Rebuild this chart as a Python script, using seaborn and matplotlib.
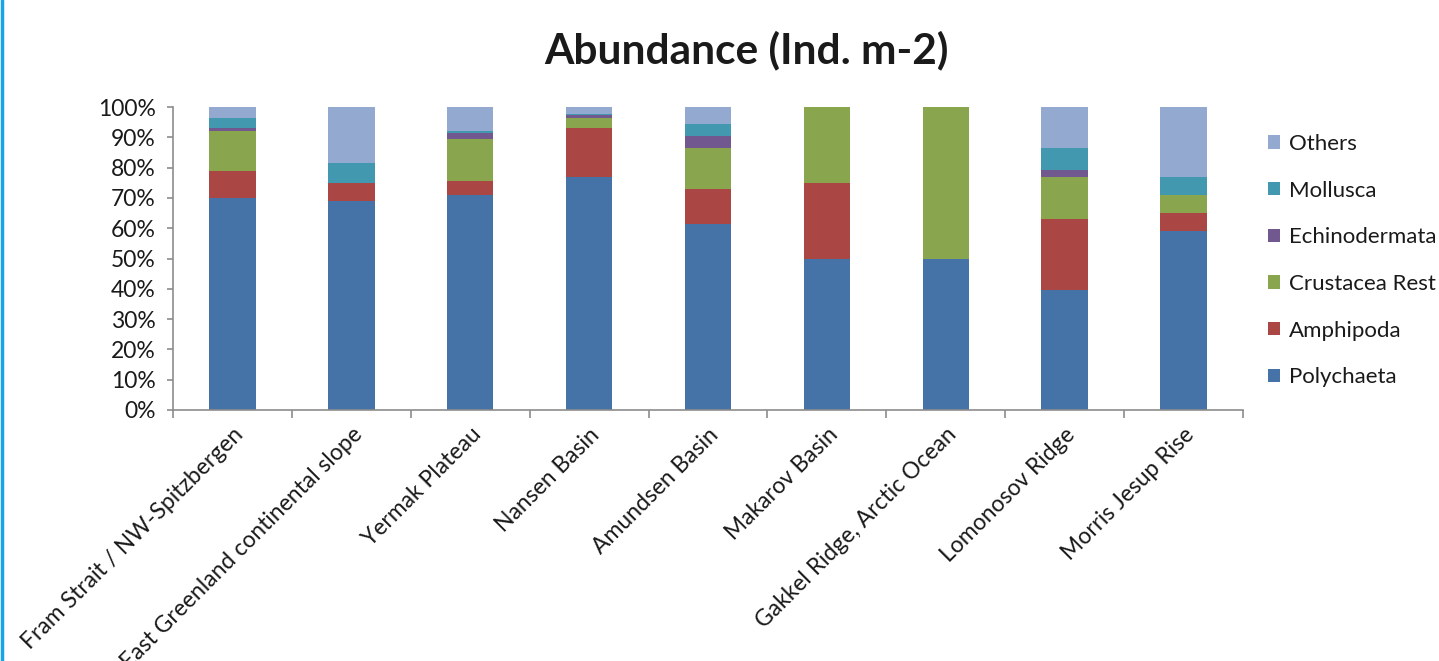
import numpy as np
import pandas as pd
import matplotlib
matplotlib.use("Agg")
import matplotlib.pyplot as plt
from matplotlib.lines import Line2D
from matplotlib.ticker import PercentFormatter, FixedLocator
import seaborn as sns

# Sampling regions (x categories)
regions = [
    "Fram Strait / NW-Spitzbergen",
    "East Greenland continental slope",
    "Yermak Plateau",
    "Nansen Basin",
    "Amundsen Basin",
    "Makarov Basin",
    "Gakkel Ridge, Arctic Ocean",
    "Lomonosov Ridge",
    "Morris Jesup Rise",
]

# Share of total abundance per taxon (%)
polychaeta    = [70.0, 69.0, 71.0, 76.8, 61.4, 50.0, 50.0, 39.6, 59.1]
amphipoda     = [ 9.0,  6.0,  4.6, 16.2, 11.4, 25.0,  0.0, 23.3,  5.9]
crustacea     = [13.0,  0.0, 13.8,  3.3, 13.6, 25.0, 50.0, 13.9,  6.0]
echinodermata = [ 1.2,  0.0,  1.9,  1.1,  4.1,  0.0,  0.0,  2.3,  0.0]
mollusca      = [ 3.3,  6.4,  0.9,  0.2,  4.0,  0.0,  0.0,  7.3,  5.9]
others        = [ 3.5, 18.6,  7.8,  2.4,  5.5,  0.0,  0.0, 13.6, 23.1]

taxa = ["Polychaeta", "Amphipoda", "Crustacea Rest", "Echinodermata", "Mollusca", "Others"]
colors = ["#4572A7", "#AA4643", "#89A54E", "#71588F", "#4198AF", "#93A9CF"]

sns.set_theme(style="white")
plt.rcParams["font.family"] = ["Lato", "DejaVu Sans"]
text_color = "#1a1a1a"
fs = 16.5

df = pd.DataFrame({
    "region": regions,
    "Polychaeta": polychaeta,
    "Amphipoda": amphipoda,
    "Crustacea Rest": crustacea,
    "Echinodermata": echinodermata,
    "Mollusca": mollusca,
    "Others": others,
})
totals = df[taxa].sum(axis=1)
shares = df[taxa].div(totals, axis=0)
cum = shares.cumsum(axis=1)
cum["region"] = regions

fig = plt.figure(figsize=(14.39, 6.61), dpi=100)
ax = fig.add_axes([173 / 1439, 1 - 410 / 661, (1243 - 173) / 1439, (410 - 107) / 661])

# Stacked bars: draw cumulative layers from the top down
for taxon, col in reversed(list(zip(taxa, colors))):
    sns.barplot(data=cum, x="region", y=taxon, color=col, width=0.39,
                saturation=1, label=taxon, ax=ax, order=regions, linewidth=0)

handles, labels = ax.get_legend_handles_labels()
if ax.get_legend() is not None:
    ax.get_legend().remove()

ax.set_xlim(-0.5, len(regions) - 0.5)
ax.set_ylim(0, 1)
ax.set_xlabel("")
ax.set_ylabel("")

grey = "#8c8c8c"
for side in ["top", "right"]:
    ax.spines[side].set_visible(False)
for side in ["left", "bottom"]:
    ax.spines[side].set_color(grey)
    ax.spines[side].set_linewidth(1.2)

ax.yaxis.set_major_locator(FixedLocator(np.arange(0, 1.01, 0.1)))
ax.yaxis.set_major_formatter(PercentFormatter(1.0, decimals=0))
ax.tick_params(axis="y", which="major", direction="out", length=4.5, width=1.2,
               color=grey, left=True, labelsize=fs, labelcolor=text_color, pad=8)

# Category labels centred, tick marks on category boundaries
ax.set_xticks(range(len(regions)))
ax.set_xticklabels(regions, rotation=45, ha="right", rotation_mode="anchor")
ax.tick_params(axis="x", which="major", length=0, labelsize=fs,
               labelcolor=text_color, pad=10)
ax.set_xticks(np.arange(-0.5, len(regions)), minor=True)
ax.tick_params(axis="x", which="minor", direction="out", length=6, width=1.2,
               color=grey, bottom=True)

fig.text(746 / 1439, 1 - 50 / 661, "Abundance (Ind. m-2)", ha="center", va="center",
         fontsize=30.5, fontweight="bold", color=text_color)

leg = fig.legend(handles, labels, loc="upper left",
                 bbox_to_anchor=(1259 / 1439, 1 - 125 / 661),
                 frameon=False, fontsize=16, labelspacing=1.2,
                 handlelength=0.55, handleheight=0.55, handletextpad=0.4,
                 labelcolor=text_color, borderaxespad=0)

# Thin blue frame line on the left edge
fig.add_artist(Line2D([0.0012, 0.0012], [0, 1], transform=fig.transFigure,
                      color="#1AA3E8", lw=2.5))

fig.savefig("out.png", dpi=100, facecolor="white")
